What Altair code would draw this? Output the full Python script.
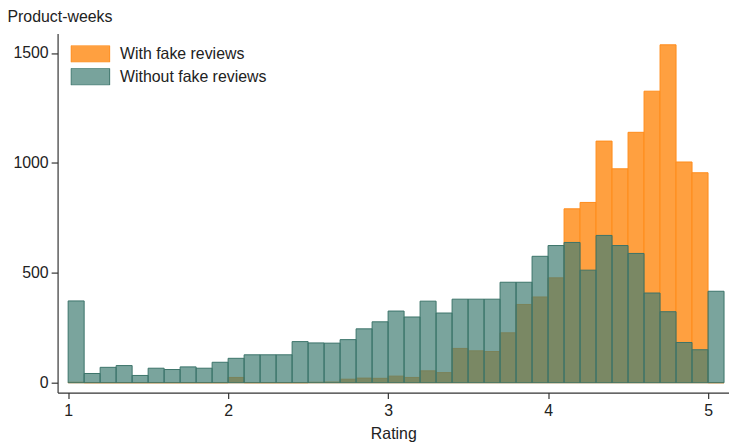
import altair as alt
import pandas as pd

# Bin starts (rating), bin width 0.1
bin_starts = [1.0, 1.1, 1.2, 1.3, 1.4, 1.5, 1.6, 1.7, 1.8, 1.9,
              2.0, 2.1, 2.2, 2.3, 2.4, 2.5, 2.6, 2.7, 2.8, 2.9,
              3.0, 3.1, 3.2, 3.3, 3.4, 3.5, 3.6, 3.7, 3.8, 3.9,
              4.0, 4.1, 4.2, 4.3, 4.4, 4.5, 4.6, 4.7, 4.8, 4.9,
              5.0]
bin_width = 0.1

with_fake = [2, 0, 0, 0, 0, 0, 0, 0, 0, 0,
             24, 0, 0, 0, 0, 2, 3, 16, 21, 20,
             30, 24, 54, 46, 156, 145, 142, 227, 356, 390,
             477, 791, 820, 1099, 973, 1139, 1326, 1537, 1004, 955,
             0]

without_fake = [372, 42, 70, 78, 33, 66, 60, 72, 66, 93,
                111, 127, 127, 127, 187, 181, 180, 196, 245, 277,
                326, 299, 371, 317, 380, 380, 380, 457, 457, 575,
                624, 638, 512, 670, 624, 588, 408, 323, 183, 150,
                416]

series_names = ["With fake reviews", "Without fake reviews"]
x_ticks = [1, 2, 3, 4, 5]
y_ticks = [0, 500, 1000, 1500]

rows = []
for name, vals in zip(series_names, [with_fake, without_fake]):
    for s, v in zip(bin_starts, vals):
        rows.append({"start": s, "end": round(s + bin_width, 2), "count": v, "series": name})
df = pd.DataFrame(rows)

FONT = "Liberation Sans"

x_enc = alt.X("start:Q",
              scale=alt.Scale(domain=[0.934, 5.131], nice=False, zero=False),
              axis=alt.Axis(values=x_ticks, format="d", title="Rating", grid=False,
                            tickSize=6, labelPadding=4, titleY=46,
                            titleBaseline="alphabetic"))
y_enc = alt.Y("count:Q",
              scale=alt.Scale(domain=[-45, 1588], nice=False, zero=False),
              axis=alt.Axis(values=y_ticks, format="d", title="Product-weeks", grid=False,
                            tickSize=6.5, labelPadding=3,
                            titleAngle=0, titleAlign="left", titleBaseline="alphabetic",
                            titleX=-51, titleY=-12))

base = alt.Chart(df)

orange = base.transform_filter(alt.datum.series == series_names[0]).mark_bar(
    fill="#FFA040", stroke="#FF8C1A", strokeWidth=1
).encode(x=x_enc, x2="end:Q", y=y_enc, y2=alt.Y2(datum=0))

teal = base.transform_filter(alt.datum.series == series_names[1]).mark_bar(
    fill="#417D73", fillOpacity=0.7, stroke="#3B7369", strokeWidth=1
).encode(x=x_enc, x2="end:Q", y=y_enc, y2=alt.Y2(datum=0))

# legend-only layer (zero-size marks)
legend_layer = base.mark_bar(strokeWidth=0).encode(
    x=x_enc, x2=alt.X2("start:Q"), y=y_enc, y2=alt.Y2(datum=0),
    fill=alt.Fill("series:N",
                  scale=alt.Scale(domain=series_names, range=["#FFA040", "#78A39C"]),
                  legend=alt.Legend(title=None, orient="none", legendX=13, legendY=12,
                                    padding=0, symbolType="M-1,-0.436H1V0.436H-1Z",
                                    symbolSize=1521, symbolStrokeWidth=1,
                                    labelOffset=10, rowPadding=6, clipHeight=17,
                                    labelFontSize=16, labelFont=FONT, labelColor="#222")),
    stroke=alt.Stroke("series:N",
                      scale=alt.Scale(domain=series_names, range=["#FF8C1A", "#3B7369"]),
                      legend=alt.Legend(title=None)),
)

chart = alt.layer(orange, teal, legend_layer).properties(
    width=677,
    height=362,
    background="white",
    autosize=alt.AutoSizeParams(type="none"),
    padding={"left": 50, "top": 24, "right": 0, "bottom": 50},
).configure_view(
    stroke=None
).configure_axis(
    labelFont=FONT, titleFont=FONT, labelFontSize=16, titleFontSize=16,
    titleFontWeight="normal", labelColor="#222", titleColor="#222",
    domainColor="#333", tickColor="#333", domainWidth=1.2, tickWidth=1.2,
)

chart.save("out.html", embed_options={"renderer": "svg", "actions": False})
